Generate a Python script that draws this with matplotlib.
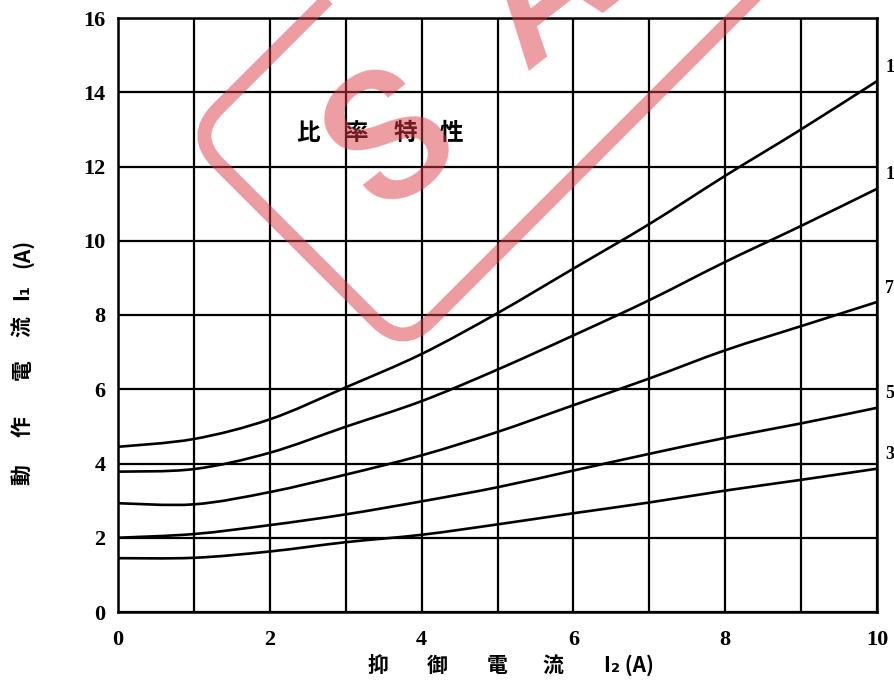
import numpy as np
import matplotlib
matplotlib.use("Agg")
import matplotlib.pyplot as plt
from matplotlib.path import Path
from matplotlib.patches import PathPatch, FancyBboxPatch
from matplotlib.transforms import Affine2D, IdentityTransform

# Restraint current I2 (A)
restraint = [0, 1, 2, 3, 4, 5, 6, 7, 8, 9, 10]

# Operating current I1 (A) for each ratio-characteristic curve
curve_1 = [4.45, 4.66, 5.19, 6.05, 6.95, 8.05, 9.25, 10.45, 11.75, 13.00, 14.30]
curve_2 = [3.78, 3.85, 4.29, 4.99, 5.68, 6.53, 7.45, 8.40, 9.43, 10.40, 11.40]
curve_3 = [2.93, 2.90, 3.23, 3.70, 4.22, 4.85, 5.57, 6.29, 7.05, 7.70, 8.35]
curve_4 = [2.00, 2.10, 2.34, 2.63, 2.98, 3.36, 3.81, 4.26, 4.69, 5.08, 5.50]
curve_5 = [1.45, 1.46, 1.63, 1.88, 2.08, 2.36, 2.66, 2.95, 3.27, 3.56, 3.86]
curves = [curve_1, curve_2, curve_3, curve_4, curve_5]
curve_tags = ["1", "1", "7", "5", "3"]

x_ticks = [0, 2, 4, 6, 8, 10]
y_ticks = [0, 2, 4, 6, 8, 10, 12, 14, 16]

title_chars = ["比", "率", "特", "性"]
xlabel_parts = ["抑", "御", "電", "流", "I₂ (A)"]
ylabel_parts = ["動", "作", "電", "流", "I₁", "(A)"]

CJK = ["Noto Sans CJK JP", "DejaVu Sans"]
NUM = ["Liberation Serif", "DejaVu Serif"]
W, H = 894, 683


def smooth_path(xs, ys):
    """Catmull-Rom spline through the points, as cubic Bezier segments."""
    pts = np.column_stack([xs, ys]).astype(float)
    ext = np.vstack([pts[0], pts, pts[-1]])
    verts = [pts[0]]
    codes = [Path.MOVETO]
    for i in range(1, len(ext) - 2):
        p0, p1, p2, p3 = ext[i - 1], ext[i], ext[i + 1], ext[i + 2]
        c1 = p1 + (p2 - p0) / 6.0
        c2 = p2 - (p3 - p1) / 6.0
        verts += [c1, c2, p2]
        codes += [Path.CURVE4] * 3
    return Path(verts, codes)


fig = plt.figure(figsize=(W / 100, H / 100), dpi=100)
ax = fig.add_axes([118 / W, 71 / H, 759 / W, 594 / H])

ax.set_xlim(0, 10)
ax.set_ylim(0, 16)
ax.set_xticks(x_ticks)
ax.set_xticks(range(11), minor=True)
ax.set_yticks(y_ticks)
ax.grid(True, which="both", axis="x", color="black", lw=1.6)
ax.grid(True, which="major", axis="y", color="black", lw=1.6)
ax.tick_params(which="both", length=0)
ax.tick_params(axis="y", pad=9)
ax.tick_params(axis="x", pad=13)
for spine in ax.spines.values():
    spine.set_linewidth(1.8)

for lab in ax.get_xticklabels() + ax.get_yticklabels():
    lab.set_fontfamily(NUM)
    lab.set_fontweight("bold")
    lab.set_fontsize(16)

for ys, tag in zip(curves, curve_tags):
    ax.add_patch(PathPatch(smooth_path(restraint, ys), fill=False,
                           edgecolor="black", lw=1.9, zorder=3))
    ax.annotate(tag, xy=(restraint[-1], ys[-1]), xytext=(6, 10),
                textcoords="offset points", fontsize=13, fontweight="bold",
                family=NUM, ha="left", va="center", annotation_clip=False)

# Panel caption inside the grid
title_x = [308, 356, 405, 451]
for ch, px in zip(title_chars, title_x):
    fig.text(px / W, (H - 133) / H, ch, family=CJK, fontsize=17,
             fontweight="bold", ha="center", va="center")

# Axis titles, spaced out character by character
xlabel_x = [378, 437, 497, 553, 629]
for part, px in zip(xlabel_parts, xlabel_x):
    fig.text(px / W, (H - 665) / H, part, family=CJK, fontsize=15,
             fontweight="bold", ha="center", va="center")

ylabel_y = [475, 427, 370, 327, 292, 253]
for part, py in zip(ylabel_parts, ylabel_y):
    fig.text(22 / W, (H - py) / H, part, family=CJK, fontsize=15,
             fontweight="bold", ha="center", va="center", rotation=90)

# Pink stamp overlay
stamp_color = "#dc3c46"
stamp_tf = Affine2D().rotate_deg(45).translate(403, 335)
frame = FancyBboxPatch((0, 0), 900, 300,
                       boxstyle="round,pad=0,rounding_size=38",
                       fill=False, edgecolor=stamp_color, lw=10, alpha=0.5,
                       transform=stamp_tf, zorder=10)
fig.add_artist(frame)
for ch, lx, ly in [("S", 138, 153), ("A", 350, 150)]:
    px, py = stamp_tf.transform((lx, ly))
    fig.text(px, py, ch, transform=IdentityTransform(), fontsize=130,
             fontweight="medium", color=stamp_color, alpha=0.5, rotation=38,
             ha="center", va="center", family=["Roboto", "DejaVu Sans"],
             zorder=10)

fig.savefig("out.png", dpi=100)
